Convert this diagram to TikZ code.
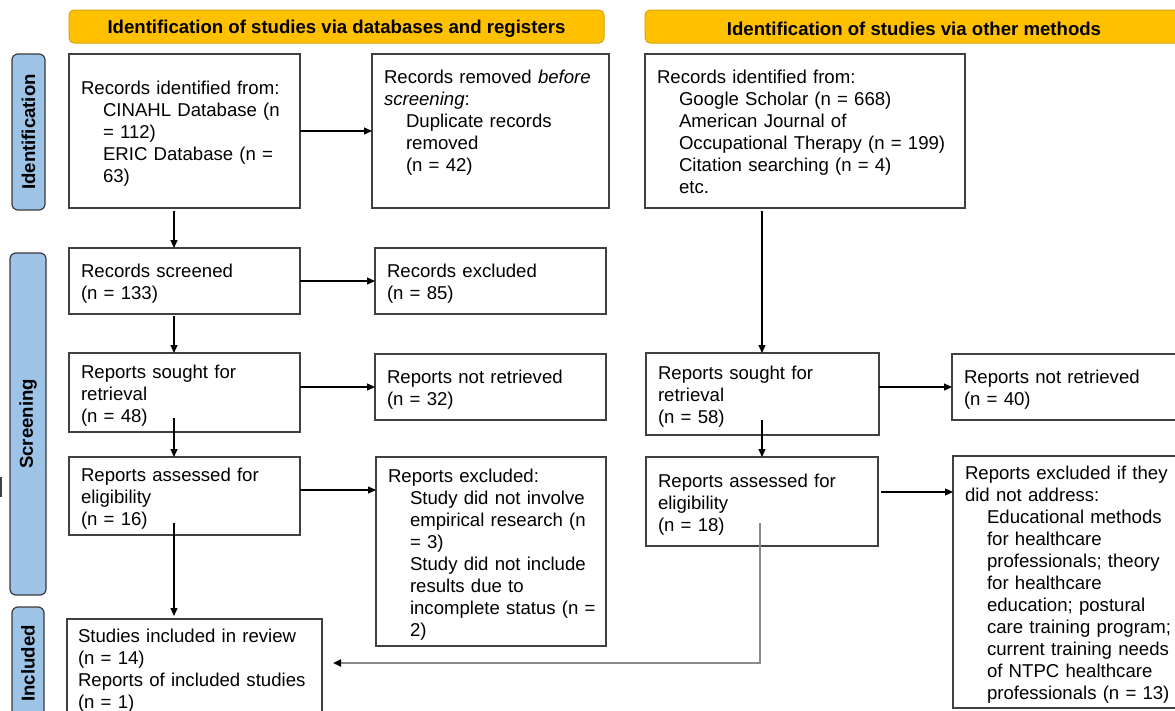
\documentclass[tikz,border=0pt]{standalone}
\usepackage{fontspec}
\setmainfont{Liberation Sans}
\usetikzlibrary{arrows.meta}
\definecolor{bannerfill}{HTML}{FFC000}
\definecolor{bannerline}{HTML}{D4A20A}
\definecolor{sidefill}{HTML}{9DC3E6}
\definecolor{sideline}{HTML}{3A3A3A}
\definecolor{boxline}{HTML}{404040}
\definecolor{grayline}{HTML}{8A8A8A}
\newcommand\lns[1]{\raisebox{-3.5pt}[\height][\depth]{\begin{tabular}{@{}l@{}}#1\end{tabular}}}
\newcommand\bandown[1]{\raisebox{-2.5pt}[\height][\depth]{#1}}
\newcommand\ind{\hspace*{22pt}}
\begin{document}
\begin{tikzpicture}[x=1pt,y=-1pt,
  font=\fontsize{18.6}{22}\selectfont,
  box/.style={draw=boxline, line width=1.2pt, rectangle, align=left,
    inner xsep=12pt, inner ysep=0pt, outer sep=0pt},
  banner/.style={draw=bannerline, fill=bannerfill, rounded corners=5pt,
    line width=1pt, font=\fontsize{18.6}{22}\selectfont\bfseries,
    inner sep=0pt, outer sep=0pt},
  side/.style={draw=sideline, fill=sidefill, rounded corners=6pt,
    line width=1.2pt, rotate=90, font=\fontsize{18.6}{22}\selectfont\bfseries,
    inner sep=0pt, outer sep=0pt},
  arr/.style={-{Triangle[length=8pt,width=7pt]}, line width=1.2pt, black},
  garr/.style={-{Triangle[length=8pt,width=7pt,color=black]}, line width=2pt, grayline}
]
\useasboundingbox (0,0) rectangle (1175,710);
\clip (0,0) rectangle (1175,710);
\fill[white] (0,0) rectangle (1175,710);

% banners
\node[banner, minimum width=535pt, minimum height=33pt] (ban1) at (336.5,26.5)
  {\bandown{Identification of studies via databases and registers}};
\node[banner, minimum width=538pt, minimum height=33pt] (ban2) at (914,26.5)
  {\bandown{Identification of studies via other methods}};

% side labels
\node[side, minimum width=156pt, minimum height=33pt] (sid1) at (28.5,132) {Identification};
\node[side, minimum width=342pt, minimum height=36pt] (sid2) at (28,424) {Screening};
\node[side, minimum width=113pt, minimum height=32pt] (sid3) at (28,663.5) {Included};

% left column
\node[box, minimum width=231pt, minimum height=154pt, text width=207pt] (a1) at (184.5,131)
  {\lns{Records identified from:\\ \ind CINAHL Database (n\\ \ind = 112)\\ \ind ERIC Database (n =\\ \ind 63)}};
\node[box, minimum width=237pt, minimum height=154pt, text width=213pt] (a2) at (490.5,131)
  {\lns{Records removed \textit{before}\\ \textit{screening}:\\ \ind Duplicate records\\ \ind removed\\ \ind (n = 42)\\ {}}};
\node[box, minimum width=231pt, minimum height=66pt, text width=207pt] (b1) at (184.5,281)
  {\lns{Records screened\\ (n = 133)}};
\node[box, minimum width=231pt, minimum height=66pt, text width=207pt] (b2) at (490.5,281)
  {\lns{Records excluded\\ (n = 85)}};
\node[box, minimum width=231pt, minimum height=79pt, text width=207pt] (c1) at (184.5,392.5)
  {\lns{Reports sought for\\ retrieval\\ (n = 48)}};
\node[box, minimum width=231pt, minimum height=66pt, text width=207pt] (c2) at (490.5,387)
  {\lns{Reports not retrieved\\ (n = 32)}};
\node[box, minimum width=231pt, minimum height=78pt, text width=207pt] (d1) at (184.5,496)
  {\lns{Reports assessed for\\ eligibility\\ (n = 16)}};
\node[box, minimum width=230pt, minimum height=189pt, text width=206pt] (d2) at (491,551.5)
  {\lns{Reports excluded:\\ \ind Study did not involve\\ \ind empirical research (n\\ \ind = 3)\\ \ind Study did not include\\ \ind results due to\\ \ind incomplete status (n =\\ \ind 2)}};
\node[box, minimum width=255pt, minimum height=98pt, text width=233pt, inner xsep=11pt] (e1) at (194.5,668)
  {\lns{Studies included in review\\ (n = 14)\\ Reports of included studies\\ (n = 1)}};

% right column
\node[box, minimum width=320pt, minimum height=154pt, text width=296pt] (r1) at (805,131)
  {\lns{Records identified from:\\ \ind Google Scholar (n = 668)\\ \ind American Journal of\\ \ind Occupational Therapy (n = 199)\\ \ind Citation searching (n = 4)\\ \ind etc.}};
\node[box, minimum width=233pt, minimum height=82pt, text width=209pt] (r2) at (762.5,394)
  {\lns{Reports sought for\\ retrieval\\ (n = 58)}};
\node[box, minimum width=233pt, minimum height=66pt, text width=209pt] (r3) at (1068.5,387)
  {\lns{Reports not retrieved\\ (n = 40)}};
\node[box, minimum width=232pt, minimum height=89pt, text width=208pt] (r4) at (762,501.5)
  {\lns{Reports assessed for\\ eligibility\\ (n = 18)}};
\node[box, minimum width=232pt, minimum height=252pt, text width=208pt] (r5) at (1069,582)
  {\lns{Reports excluded if they\\ did not address:\\ \ind Educational methods\\ \ind for healthcare\\ \ind professionals; theory\\ \ind for healthcare\\ \ind education; postural\\ \ind care training program;\\ \ind current training needs\\ \ind of NTPC healthcare\\ \ind professionals (n = 13)}};

% helper coordinates
\coordinate (lx) at (174,0);
\coordinate (rx) at (762,0);
\coordinate (gx) at (760,0);
\coordinate (d1a) at ([yshift=6pt]d1.east);
\coordinate (r4a) at ([yshift=9.5pt]r4.east);
\coordinate (gs) at ([yshift=23pt]r4.south -| gx);
\coordinate (gt) at ([xshift=11pt,yshift=5pt]e1.east);

% connectors
\draw[arr, shorten <=3pt] (a1.south -| lx) -- (b1.north -| lx);
\draw[arr] (a1.east) -- (a2.west);
\draw[arr, shorten <=2pt] (b1.south -| lx) -- (c1.north -| lx);
\draw[arr] (b1.east) -- (b2.west);
\draw[arr, shorten <=-14pt] (c1.south -| lx) -- (d1.north -| lx);
\draw[arr] (c1.east |- c2.west) -- (c2.west);
\draw[arr, shorten <=-12pt, shorten >=3pt] (d1.south -| lx) -- (e1.north -| lx);
\draw[arr] (d1a) -- (d1a -| d2.west);
\draw[arr, shorten <=3pt] (r1.south -| rx) -- (r2.north -| rx);
\draw[arr] (r2.east |- r3.west) -- (r3.west);
\draw[arr, shorten <=-15pt] (r2.south -| rx) -- (r4.north -| rx);
\draw[arr, shorten <=3pt] (r4a) -- (r4a -| r5.west);
\draw[garr] (gs) -- (gs |- gt) -- (gt);

% stray mark at left edge
\draw[boxline, line width=1.2pt] (1,477) -- (1,497);
\end{tikzpicture}
\end{document}
